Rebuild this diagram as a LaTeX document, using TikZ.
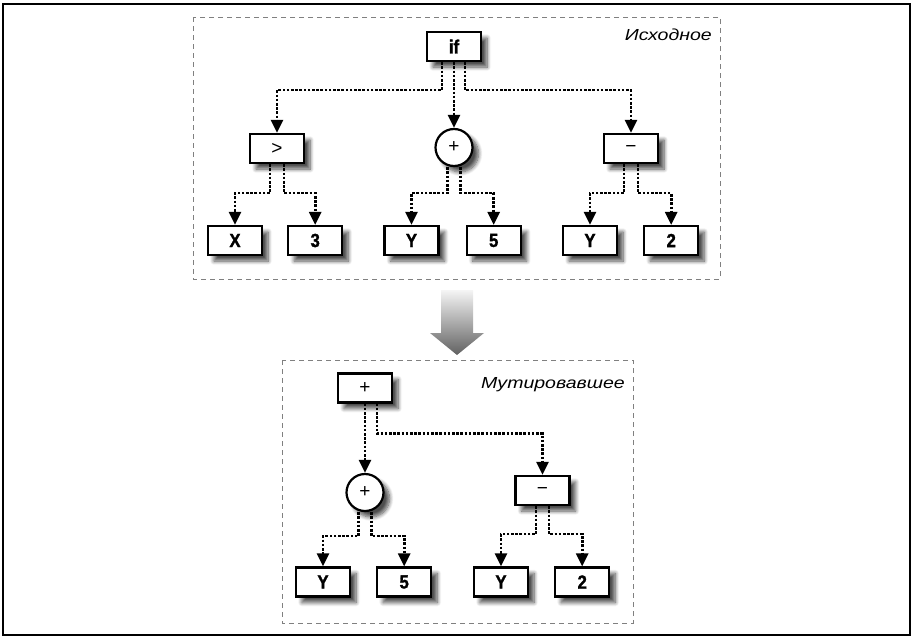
\documentclass[tikz,border=0pt]{standalone}
\usepackage{fontspec}
\setmainfont{Liberation Sans}
\newfontfamily\tagfont[FakeStretch=1.22]{Liberation Sans}
\newfontfamily\leaffont[FakeStretch=0.88, FakeBold=1.4]{Liberation Sans}
\usetikzlibrary{arrows.meta, positioning, calc, shadows.blur}
\tikzset{every node/.append style={align=center, inner sep=0pt}}

\begin{document}
\begin{tikzpicture}[x=1pt, y=-1pt,
    boxed/.style={draw, line width=2.2pt, fill=white, blur shadow={shadow xshift=6pt, shadow yshift=-6pt, shadow blur steps=8, shadow blur radius=4pt, shadow opacity=70}},
    leaf/.style={boxed, rectangle, minimum width=54pt, minimum height=29pt, font=\leaffont\bfseries\fontsize{19}{19}\selectfont},
    op/.style={boxed, rectangle, minimum width=54pt, minimum height=29pt, font=\fontsize{19}{19}\selectfont},
    opc/.style={boxed, circle, minimum size=37pt, font=\fontsize{19}{19}\selectfont},
    link/.style={line width=2.6pt, dash pattern=on 2.6pt off 1.6pt, -{Triangle[length=13pt, width=12pt]}},
    frame/.style={draw=black!50, line width=1pt, dash pattern=on 5pt off 4pt},
    tag/.style={anchor=base east, font=\tagfont\itshape\fontsize{16}{16}\selectfont}]
\useasboundingbox (0,0) rectangle (915,637);
\draw[line width=1.5pt] (3,4) rectangle (910,635);
\draw[frame] (193,17) rectangle (720,279);
\draw[frame] (282,360) rectangle (633,623);
\path[top color=black!4, bottom color=black!62]
    (441,290) -- (473,290) -- (473,333) -- (484,333) -- (457,355) -- (430,333) -- (441,333) -- cycle;
\node[tag] (srcTag) at (712,40) {Исходное};
\node[tag] (mutTag) at (625,388) {Мутировавшее};
% original tree
\node[leaf] (if) at (454,46.5) {if};
\node[op] (gt) at (277,148.5) {>};
\node[opc] (addA) at (454,147.5) {+};
\node[op] (subA) at (631,148.5) {−};
\node[leaf] (xA) at (235,240.5) {X};
\node[leaf, right=24pt of xA] (threeA) {3};
\node[leaf] (yA) at (411.5,240.5) {Y};
\node[leaf, right=26pt of yA] (fiveA) {5};
\node[leaf] (yB) at (590,240.5) {Y};
\node[leaf, right=25pt of yB] (twoA) {2};
\draw[link] ([xshift=-12pt]if.south) -- ++(0,28) -| (gt.north);
\draw[link] (if.south) -- (addA.north);
\draw[link] ([xshift=11pt]if.south) -- ++(0,28) -| (subA.north);
\draw[link] ([xshift=-7pt]gt.south) -- ++(0,29) -| (xA.north);
\draw[link] ([xshift=7pt]gt.south) -- ++(0,29) -| (threeA.north);
\draw[link] ([xshift=-6.5pt]addA.south) -- ++(0,26) -| (yA.north);
\draw[link] ([xshift=6.5pt]addA.south) -- ++(0,26) -| (fiveA.north);
\draw[link] ([xshift=-7pt]subA.south) -- ++(0,29) -| (yB.north);
\draw[link] ([xshift=7pt]subA.south) -- ++(0,29) -| (twoA.north);
% mutated tree
\node[op] (addB) at (365,388) {+};
\node[opc] (addC) at (365,492.5) {+};
\node[op] (subB) at (542.5,490.5) {−};
\node[leaf] (yC) at (323,582) {Y};
\node[leaf, right=25pt of yC] (fiveB) {5};
\node[leaf] (yD) at (501,582) {Y};
\node[leaf, right=25pt of yD] (twoB) {2};
\draw[link] (addB.south) -- (addC.north);
\draw[link] ([xshift=12pt]addB.south) -- ++(0,30) -| (subB.north);
\draw[link] ([xshift=-6.5pt]addC.south) -- ++(0,24) -| (yC.north);
\draw[link] ([xshift=6.5pt]addC.south) -- ++(0,24) -| (fiveB.north);
\draw[link] ([xshift=-6.5pt]subB.south) -- ++(0,28) -| (yD.north);
\draw[link] ([xshift=6.5pt]subB.south) -- ++(0,28) -| (twoB.north);
\end{tikzpicture}
\end{document}
